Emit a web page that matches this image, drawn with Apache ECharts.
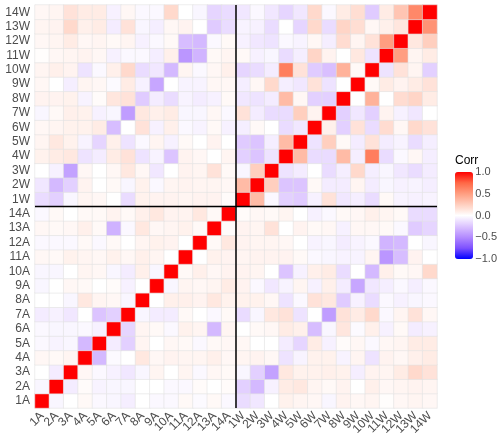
<!DOCTYPE html>
<html>
<head>
<meta charset="utf-8">
<script src="https://cdn.jsdelivr.net/npm/echarts@6/dist/echarts.min.js"></script>
<style>
  html, body { margin: 0; padding: 0; background: #fff; }
  #chart { width: 500px; height: 441px; }
</style>
</head>
<body>
<div id="chart"></div>
<script>
// variable names, bottom to top / left to right
const catsA = ['1A', '2A', '3A', '4A', '5A', '6A', '7A', '8A', '9A', '10A', '11A', '12A', '13A', '14A']
const catsW = ['1W', '2W', '3W', '4W', '5W', '6W', '7W', '8W', '9W', '10W', '11W', '12W', '13W', '14W']

// A x A block, rows 1A..14A, cols 1A..14A
const corrAA = [
  [1, -0.04, 0, 0.03, -0.03, -0.04, -0.07, 0, -0.03, -0.03, 0.03, -0.02, 0.03, -0.03],
  [-0.04, 1, -0.08, 0.02, -0.05, -0.04, -0.04, 0, 0, -0.03, -0.03, 0.02, 0, 0.02],
  [0, -0.08, 1, 0.04, -0.03, -0.06, -0.1, -0.04, 0.05, 0, 0.05, -0.03, 0.04, 0.03],
  [0.04, 0.03, 0.05, 1, -0.3, -0.02, 0, 0.12, 0.04, 0.06, 0.05, 0.05, 0.08, 0.04],
  [-0.03, -0.05, -0.04, -0.3, 1, -0.08, -0.2, 0.05, 0, 0.04, 0.03, -0.03, 0.03, 0.04],
  [-0.03, -0.04, -0.04, -0.03, -0.06, 1, -0.18, 0.05, 0.03, -0.03, 0.07, 0.05, -0.3, 0.05],
  [-0.08, -0.06, -0.1, 0, -0.25, -0.2, 1, -0.04, -0.08, -0.08, 0.03, 0, -0.03, 0.03],
  [0, 0, -0.04, 0.12, 0.05, 0.04, -0.04, 1, 0, 0.08, 0.08, 0.06, 0.12, 0.07],
  [-0.04, 0, 0.04, 0.03, 0, 0.02, -0.06, 0, 1, -0.04, 0.05, 0.04, 0.05, 0.1],
  [-0.04, -0.04, 0, 0.05, 0.04, -0.04, -0.08, 0.08, -0.04, 1, 0.03, 0.08, 0.04, 0.06],
  [0.04, 0.03, 0.07, 0.05, 0.04, 0.07, 0.04, 0.08, 0.05, 0, 1, 0, 0.07, 0.06],
  [-0.03, -0.03, -0.03, 0.03, -0.03, 0.03, 0, 0.05, 0.07, 0.06, 0, 1, 0.03, 0.12],
  [0.04, 0.03, 0.04, 0.08, 0.03, -0.33, -0.03, 0.12, 0.04, 0.05, 0.07, 0.03, 1, 0.02],
  [-0.03, 0.03, 0, 0.03, 0.03, 0.06, 0.03, 0.08, 0.12, 0.06, 0.06, 0.12, 0.03, 1]
]

// W x W block, rows 1W..14W, cols 1W..14W
const corrWW = [
  [1, 0.35, -0.03, -0.2, -0.22, -0.06, 0.15, -0.1, -0.07, -0.15, 0.03, -0.05, -0.06, -0.05],
  [0.35, 1, 0.25, -0.25, -0.25, 0.03, -0.08, -0.08, 0.05, -0.08, -0.04, -0.06, -0.05, -0.07],
  [-0.04, 0.25, 1, -0.12, -0.08, 0, -0.15, -0.07, 0.2, -0.07, -0.04, -0.1, -0.15, -0.08],
  [-0.2, -0.25, -0.12, 1, 0.35, -0.15, -0.15, 0.35, -0.07, 0.65, -0.15, -0.03, 0.04, -0.07],
  [-0.22, -0.25, -0.07, 0.35, 1, -0.12, 0.25, 0.03, -0.08, 0.15, -0.08, -0.05, -0.15, -0.07],
  [-0.07, 0.03, 0, -0.15, -0.1, 1, 0.08, -0.2, 0.15, -0.15, 0.18, 0.04, 0.2, 0.15],
  [0.15, -0.08, -0.15, -0.15, 0.25, 0.06, 1, -0.2, -0.1, -0.2, 0.06, -0.06, -0.1, 0],
  [-0.1, -0.12, -0.08, 0.35, 0.04, -0.2, -0.2, 1, 0, 0.4, 0, 0.18, 0.22, 0.1],
  [-0.07, 0.04, 0.2, -0.07, -0.1, 0.15, -0.12, 0, 1, 0.03, 0.1, 0.06, 0.1, 0.15],
  [-0.18, -0.15, -0.08, 0.65, 0.15, -0.22, -0.27, 0.4, 0.03, 1, -0.12, 0.15, 0.05, -0.2],
  [0.03, -0.06, -0.04, -0.15, -0.07, 0.22, 0.06, 0, 0.12, -0.12, 1, 0.5, 0.05, 0.1],
  [-0.06, -0.1, -0.12, -0.03, -0.05, 0.04, -0.07, 0.18, 0.05, 0.15, 0.5, 1, 0.12, 0.25],
  [-0.05, -0.06, -0.15, 0, -0.18, 0.2, -0.15, 0.22, 0.17, 0.04, 0.08, 0.13, 1, 0.55],
  [-0.1, -0.03, -0.1, -0.18, -0.1, 0.2, -0.03, 0.1, 0.17, -0.22, 0.1, 0.3, 0.6, 1]
]

// W x A block, rows 1W..14W, cols 1A..14A (the A x W block is its transpose)
const corrWA = [
  [-0.15, -0.2, -0.04, 0.05, 0.04, 0, -0.15, 0.07, 0.06, 0.06, 0.05, 0.06, 0.06, 0.02],
  [-0.1, -0.3, -0.2, 0.06, 0, 0.03, -0.04, 0.07, -0.03, 0.05, 0.06, 0.05, 0.05, 0.04],
  [0, -0.06, -0.4, 0.04, 0, 0.04, 0.12, 0.04, -0.1, 0, 0.06, 0.05, 0.15, 0.03],
  [0.07, 0.1, 0.12, -0.12, -0.08, 0.1, 0.15, -0.12, -0.05, -0.25, 0.06, 0.04, 0, 0.05],
  [0.05, 0.12, 0.07, -0.05, -0.18, 0.08, -0.12, -0.03, 0.05, -0.06, 0.03, 0, 0.06, 0],
  [0.04, 0.05, 0.07, 0.07, 0.1, -0.28, 0, 0.15, -0.06, 0.08, -0.03, -0.05, 0.03, -0.06],
  [-0.04, 0.03, 0.08, 0.07, -0.06, -0.04, -0.42, 0.12, 0.08, 0.1, -0.04, -0.04, 0.04, -0.03],
  [0.06, 0.06, 0.07, -0.05, 0.02, 0.13, 0.15, -0.22, -0.08, -0.15, -0.05, -0.08, -0.06, 0.03],
  [0.04, 0, -0.07, 0.05, 0.04, -0.02, 0.1, -0.06, -0.38, 0, -0.05, -0.05, 0.04, 0.04],
  [0.05, 0.08, 0.06, -0.12, -0.03, 0.08, 0.2, -0.15, -0.1, -0.3, 0.05, -0.03, 0.04, 0.08],
  [0.01, 0.04, 0.05, 0.06, 0.04, -0.06, -0.03, -0.03, -0.07, 0.08, -0.45, -0.32, 0.03, 0.05],
  [0.04, 0.05, 0.1, 0.04, 0.05, 0.03, 0.05, -0.06, -0.03, 0.03, -0.28, -0.3, -0.03, 0.03],
  [0.05, 0.06, 0.2, 0.08, 0.1, -0.08, 0.15, -0.04, -0.07, 0.04, 0.06, 0, -0.22, -0.15],
  [0.04, 0.05, 0.15, 0.1, 0.1, -0.06, 0.04, -0.03, -0.03, 0.2, 0, -0.04, -0.18, -0.15]
]

const legendTicks = [-1, -0.5, 0, 0.5, 1]

const cats = catsA.concat(catsW)
const nA = catsA.length

const cell = (r, c) => {
  if (r < nA && c < nA) return corrAA[r][c]
  if (r >= nA && c >= nA) return corrWW[r - nA][c - nA]
  if (r >= nA) return corrWA[r - nA][c]
  return corrWA[c - nA][r]
}

const heat = []
for (let r = 0; r < cats.length; r++) {
  for (let c = 0; c < cats.length; c++) heat.push([c, r, cell(r, c)])
}

const labelColor = '#4d4d4d'
const font = 'Liberation Sans, Arial, sans-serif'
const fmt = v => (v < 0 ? '\u2212' : '') + Math.abs(v).toFixed(1)

const chart = echarts.init(document.getElementById('chart'))
chart.setOption({
  animation: false,
  textStyle: { fontFamily: font },
  title: { text: 'Corr', left: 455, top: 155, padding: 0, textStyle: { fontSize: 12, fontWeight: 'normal', color: '#000', fontFamily: font } },
  grid: [
    { left: 35, top: 5, width: 402, height: 403 },
    { left: 455, top: 172, width: 18, height: 87 },
    { left: 35, top: 5, width: 402, height: 403 }
  ],
  xAxis: [
    {
      type: 'category', data: cats, gridIndex: 0,
      axisLine: { show: false }, axisTick: { show: false }, splitLine: { show: false },
      axisLabel: { interval: 0, rotate: 45, margin: 6, fontSize: 12, color: labelColor }
    },
    { type: 'value', gridIndex: 1, show: false, min: 0, max: 1 },
    { type: 'value', gridIndex: 2, show: false, min: 0, max: cats.length }
  ],
  yAxis: [
    {
      type: 'category', data: cats, gridIndex: 0,
      axisLine: { show: false }, axisTick: { show: false }, splitLine: { show: false },
      axisLabel: { interval: 0, margin: 5, fontSize: 12, color: labelColor }
    },
    {
      type: 'value', gridIndex: 1, min: legendTicks[0], max: legendTicks[legendTicks.length - 1], interval: 0.5,
      position: 'right', z: 10,
      axisLine: { show: false }, splitLine: { show: false },
      axisTick: { show: true, inside: true, length: 4, lineStyle: { color: '#fff', width: 1 } },
      axisLabel: { margin: 6, fontSize: 11, color: labelColor, formatter: fmt }
    },
    { type: 'value', gridIndex: 2, show: false, min: 0, max: cats.length }
  ],
  visualMap: {
    type: 'continuous', seriesIndex: 0, min: -1, max: 1,
    left: 455, top: 172, itemWidth: 18, itemHeight: 87, padding: 0,
    calculable: false, hoverLink: false, text: null,
    inRange: { color: ['#0000FF', '#7E51FF', '#B38BFF', '#DCC4FF', '#FFFFFF', '#FFCFBF', '#FF9E81', '#FF6846', '#FF0000'] }
  },
  series: [
    {
      type: 'heatmap', xAxisIndex: 0, yAxisIndex: 0, data: heat,
      itemStyle: { borderColor: '#e3e3e3', borderWidth: 0.6 }
    },
    {
      type: 'line', xAxisIndex: 2, yAxisIndex: 2, symbol: 'none', silent: true,
      data: [[nA, 0], [nA, cats.length]], lineStyle: { color: '#000', width: 1.5 }
    },
    {
      type: 'line', xAxisIndex: 2, yAxisIndex: 2, symbol: 'none', silent: true,
      data: [[0, nA], [cats.length, nA]], lineStyle: { color: '#000', width: 1.5 }
    }
  ]
})
</script>
</body>
</html>
